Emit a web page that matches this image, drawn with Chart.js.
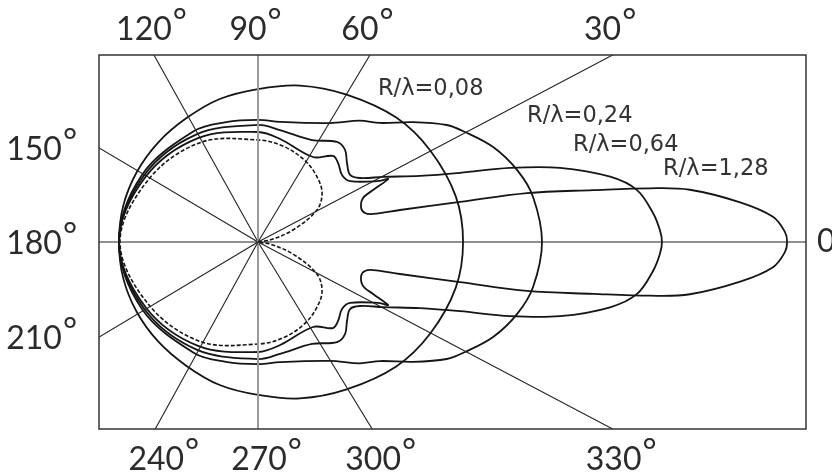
<!DOCTYPE html>
<html>
<head>
<meta charset="utf-8">
<script src="https://cdn.jsdelivr.net/npm/chart.js@4.4.0/dist/chart.umd.min.js"></script>
<style>
html,body{margin:0;padding:0;background:#fff;}
#wrap{width:832px;height:474px;position:relative;}
</style>
</head>
<body>
<div id="wrap"><canvas id="c" width="832" height="474"></canvas></div>
<script>
// ---- data (upper half, polar: angle in degrees, r relative to r(180°)=1) ----
const seriesLabels = ['R/λ=0,08', 'R/λ=0,24', 'R/λ=0,64', 'R/λ=1,28'];

const ang008 = [0, 13, 28, 42, 59, 75, 90, 105, 120, 135, 150, 165, 180];
const r008   = [1.475, 1.460, 1.403, 1.338, 1.237, 1.165, 1.100, 1.065, 1.029, 1.014, 1.007, 1.004, 1.0];

const ang024 = [0, 9.3, 15.5, 22.0, 28.0, 31.8, 37.7, 44.3, 50, 58.8, 79.6, 90, 105, 120, 150, 180];
const r024   = [2.043, 2.005, 1.935, 1.824, 1.686, 1.597, 1.410, 1.226, 1.139, 1.000, 0.878, 0.878, 0.892, 0.921, 0.964, 1.0];

const ang064 = [0, 1.7, 4.2, 7.8, 10.5, 13.8, 16.4, 18.9, 22.2, 27.5, 32.1, 36.1, 41.6, 46.6, 51.7, 62.1, 78.9, 90, 120, 150, 180];
const r064   = [2.906, 2.892, 2.849, 2.752, 2.576, 2.237, 1.889, 1.536, 1.259, 1.014, 0.866, 0.819, 0.856, 0.911, 0.917, 0.830, 0.820, 0.842, 0.892, 0.950, 1.0];

const ang128 = [0, 1.1, 2.8, 4.7, 6.9, 7.8, 8.8, 10.3, 11.2, 12.7, 13.7, 15.2, 18.3, 22.7, 24.3, 25.85, 26.6, 33.5, 38.6, 44.6, 48.9, 57.1, 77.9, 90, 120, 150, 180];
const r128   = [3.806, 3.791, 3.709, 3.480, 3.129, 2.847, 2.439, 1.967, 1.482, 1.047, 0.852, 0.797, 0.781, 0.819, 0.908, 1.040, 0.981, 0.794, 0.773, 0.809, 0.821, 0.728, 0.758, 0.791, 0.863, 0.935, 1.0];

const angRef = [0, 9.5, 19, 28.5, 37.4, 47.8, 60, 75, 90, 120, 150, 180];
const rRef   = [0, 0.086, 0.266, 0.482, 0.580, 0.632, 0.676, 0.712, 0.734, 0.827, 0.906, 0.993];

// spokes (directions as drawn) and their tick labels
const spokeAngles = [0, 27.8, 59.1, 90, 119.1, 149.4, 180, 210.9, 241.2, 270, 301.4, 332.2];
const spokeLabels = ['0', '30', '60', '90', '120', '150', '180', '210', '240', '270', '300', '330'];

// ---- layout (not data) ----
const labelAnchors = [[0.863, 1.058], [1.935, 0.863], [2.266, 0.655], [2.914, 0.482]];

const D2R = Math.PI / 180;
// closed curve: upper half 0..180, then lower half back (endpoints not repeated)
function polarCurve(angles, r) {
  const pts = [];
  for (let i = 0; i < angles.length; i++) {
    pts.push({x: r[i] * Math.cos(angles[i] * D2R), y: r[i] * Math.sin(angles[i] * D2R)});
  }
  for (let i = angles.length - 2; i >= 1; i--) {
    pts.push({x: r[i] * Math.cos(angles[i] * D2R), y: -r[i] * Math.sin(angles[i] * D2R)});
  }
  return pts;
}

const datasets = [];
spokeAngles.forEach((a) => {
  const vertical = (a === 90 || a === 270);
  datasets.push({
    data: [{x: 0, y: 0}, {x: 9 * Math.cos(a * D2R), y: 9 * Math.sin(a * D2R)}],
    showLine: true, pointRadius: 0, borderColor: vertical ? '#9a9a9a' : '#222',
    borderWidth: vertical ? 2 : 1.1, clip: 0, tension: 0
  });
});
const curveStyle = {showLine: true, pointRadius: 0, borderColor: '#151515', borderWidth: 1.8, tension: 0.35, fill: false, closedCurve: true};
[[ang008, r008], [ang024, r024], [ang064, r064], [ang128, r128]].forEach(([a, r], i) => {
  datasets.push(Object.assign({label: seriesLabels[i], data: polarCurve(a, r)}, curveStyle));
});
datasets.push(Object.assign({label: 'ref', data: polarCurve(angRef, rRef)}, curveStyle, {borderDash: [4, 2], borderWidth: 1.6}));

// make the pattern curves closed, smooth loops
const loopFix = {
  id: 'loopFix',
  afterDatasetsUpdate(chart) {
    chart.data.datasets.forEach((ds, i) => {
      if (!ds.closedCurve) return;
      const line = chart.getDatasetMeta(i).dataset;
      if (!line) return;
      line._loop = true;
      line._fullLoop = true;
      line._pointsUpdated = false;
      delete line._segments;
      line._path = undefined;
    });
  }
};

const decor = {
  id: 'decor',
  afterDraw(chart) {
    const ctx = chart.ctx, a = chart.chartArea, xs = chart.scales.x, ys = chart.scales.y;
    const ox = xs.getPixelForValue(0), oy = ys.getPixelForValue(0);
    ctx.save();
    ctx.strokeStyle = '#333';
    ctx.lineWidth = 1.5;
    ctx.strokeRect(a.left, a.top, a.right - a.left, a.bottom - a.top);
    ctx.fillStyle = '#2b2b2b';
    const digFont = '32px Lato, "Liberation Sans", sans-serif';
    const degFont = '34px Lato, "Liberation Sans", sans-serif';
    spokeAngles.forEach((deg, i) => {
      const dx = xs.getPixelForValue(Math.cos(deg * D2R)) - ox;
      const dy = ys.getPixelForValue(Math.sin(deg * D2R)) - oy;
      let t = Infinity, side = '';
      if (dx > 1e-6) { const tt = (a.right - ox) / dx; if (tt < t) { t = tt; side = 'right'; } }
      if (dx < -1e-6) { const tt = (a.left - ox) / dx; if (tt < t) { t = tt; side = 'left'; } }
      if (dy < -1e-6) { const tt = (a.top - oy) / dy; if (tt < t) { t = tt; side = 'top'; } }
      if (dy > 1e-6) { const tt = (a.bottom - oy) / dy; if (tt < t) { t = tt; side = 'bottom'; } }
      const hx = ox + dx * t, hy = oy + dy * t;
      ctx.font = digFont;
      const wd = ctx.measureText(spokeLabels[i]).width;
      ctx.font = degFont;
      const wg = ctx.measureText('°').width;
      let x0, base;
      if (side === 'top') { x0 = hx - (wd + wg) / 2 - 3; base = a.top - 15; }
      else if (side === 'bottom') { x0 = hx - wd / 2 + 1; base = a.bottom + 41; }
      else if (side === 'left') { x0 = a.left - 23 - wd - wg; base = hy + 12; }
      else { x0 = a.right + 11; base = hy + 10; }
      ctx.textAlign = 'left';
      ctx.textBaseline = 'alphabetic';
      ctx.font = digFont;
      ctx.fillText(spokeLabels[i], x0, base);
      ctx.font = degFont;
      ctx.fillText('°', x0 + wd + 1, base - 7);
    });
    ctx.font = '22.5px "DejaVu Sans", sans-serif';
    ctx.fillStyle = '#333';
    labelAnchors.forEach((p, i) => {
      ctx.fillText(seriesLabels[i], xs.getPixelForValue(p[0]), ys.getPixelForValue(p[1]));
    });
    ctx.restore();
  }
};

new Chart(document.getElementById('c'), {
  type: 'scatter',
  data: {datasets},
  options: {
    responsive: false,
    animation: false,
    devicePixelRatio: 1,
    layout: {padding: {left: 99, right: 26, top: 55, bottom: 45}},
    scales: {
      x: {type: 'linear', min: -1.144, max: 3.942, display: false},
      y: {type: 'linear', min: -1.345, max: 1.345, display: false}
    },
    plugins: {legend: {display: false}, tooltip: {enabled: false}}
  },
  plugins: [loopFix, decor]
});
</script>
</body>
</html>
